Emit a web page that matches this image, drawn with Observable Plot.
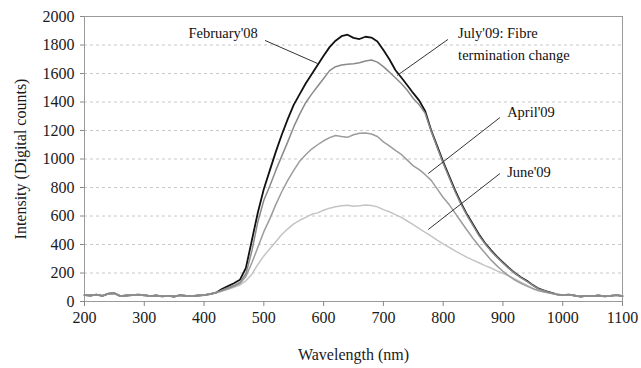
<!DOCTYPE html>
<html>
<head>
<meta charset="utf-8">
<script src="https://cdn.jsdelivr.net/npm/d3@7"></script>
<script src="https://cdn.jsdelivr.net/npm/@observablehq/plot@0.6"></script>
<style>
  html, body { margin: 0; padding: 0; background: #fff; }
  #chart { width: 641px; height: 368px; }
</style>
</head>
<body>
<div id="chart"></div>
<script>
// Wavelength grid (nm)
const wavelengths = [200,210,220,230,240,250,260,270,280,290,300,310,320,330,340,350,360,370,380,390,400,410,420,
  430,440,450,460,470,480,490,500,510,520,530,540,550,560,570,580,590,600,610,620,630,640,650,660,670,680,690,700,
  710,720,730,740,750,760,770,780,790,800,810,820,830,840,850,860,870,880,890,900,910,920,930,940,950,960,970,980,
  990,1000,1010,1020,1030,1040,1050,1060,1070,1080,1090,1100];

// Shared noisy baseline (200–420 nm) and tail (990–1100 nm)
const baseline = [45,42,48,40,55,58,38,42,45,48,44,38,42,36,40,35,44,40,38,42,45,52,62];
const tail = [50,45,48,42,35,40,38,42,36,40,45,38];

// Series values 430–980 nm
const feb08 = [88,108,128,152,235,430,625,790,920,1050,
  1170,1280,1380,1455,1530,1595,1660,1725,1785,1830,
  1862,1872,1850,1842,1858,1852,1825,1765,1700,1625,
  1572,1518,1462,1410,1335,1200,1090,980,880,780,
  690,610,540,470,410,360,315,275,235,200,
  170,145,115,90,75,62];
const jul09 = [80,96,112,134,195,355,560,710,810,920,
  1020,1120,1225,1315,1395,1455,1510,1565,1620,1648,
  1660,1665,1668,1675,1688,1695,1680,1648,1610,1570,
  1530,1482,1425,1380,1320,1195,1080,970,870,770,
  682,602,532,462,405,355,310,270,232,198,
  168,142,113,88,74,60];
const apr09 = [76,90,106,126,175,272,380,490,580,680,
  770,850,920,985,1030,1070,1100,1128,1150,1165,
  1158,1152,1170,1180,1182,1175,1158,1120,1092,1060,
  1032,992,952,925,890,850,790,730,680,620,
  560,500,442,390,340,292,250,212,180,150,
  128,108,90,75,66,58];
const jun09 = [72,86,100,116,145,192,260,320,370,420,
  470,510,545,570,590,612,622,640,655,665,
  672,676,668,672,678,674,664,645,630,610,
  590,565,540,512,485,458,430,405,380,355,
  332,310,290,272,252,235,215,198,178,158,
  136,115,92,76,65,58];

const seriesNames = ["February'08", "July'09", "April'09", "June'09"];
const seriesValues = [feb08, jul09, apr09, jun09];
const seriesColors = ["#111111", "#8a8a8a", "#9c9c9c", "#c4c4c4"];
const seriesWidths = [1.8, 1.5, 1.5, 1.5];

const xTicks = [200,300,400,500,600,700,800,900,1000,1100];
const yTicks = [0,200,400,600,800,1000,1200,1400,1600,1800,2000];

// Annotation labels and leader lines (data coordinates)
const labelTexts = [
  {text: "February'08", x: 490, y: 1881, anchor: "end"},
  {text: "July'09: Fibre", x: 825, y: 1881, anchor: "start"},
  {text: "termination change", x: 825, y: 1726, anchor: "start"},
  {text: "April'09", x: 907, y: 1326, anchor: "start"},
  {text: "June'09", x: 907, y: 905, anchor: "start"}
];
const leaders = [
  {x1: 502, y1: 1832, x2: 590, y2: 1670},
  {x1: 808, y1: 1839, x2: 723, y2: 1586},
  {x1: 895, y1: 1291, x2: 775, y2: 898},
  {x1: 895, y1: 898, x2: 775, y2: 505}
];

const tables = seriesValues.map((vals, i) => {
  const full = [...baseline, ...vals, ...tail];
  return wavelengths.map((w, j) => ({wl: w, v: full[j], series: seriesNames[i]}));
});

// draw order: Feb first, then June, April, July on top of baseline
const order = [0, 3, 2, 1];

const chart = Plot.plot({
  width: 641,
  height: 368,
  marginLeft: 84,
  marginRight: 19,
  marginTop: 16,
  marginBottom: 67,
  style: {fontFamily: "'Liberation Serif', 'DejaVu Serif', serif", fontSize: "16px", background: "#fff", color: "#1a1a1a"},
  x: {domain: [200, 1100]},
  y: {domain: [0, 2000]},
  marks: [
    Plot.gridY(yTicks.filter(t => t > 0 && t < 2000), {stroke: "#c8c8c8", strokeOpacity: 1, strokeDasharray: "3,3"}),
    Plot.frame({stroke: "#9a9a9a"}),
    Plot.axisX({ticks: xTicks, tickFormat: d => String(d), tickSize: 5, tickPadding: 5, stroke: "#888", fontSize: 16,
      label: "Wavelength (nm)", labelAnchor: "center", labelArrow: "none", labelOffset: 58}),
    Plot.axisY({ticks: yTicks, tickFormat: d => String(d), tickSize: 4, tickPadding: 6, stroke: "#888", fontSize: 16,
      label: "Intensity (Digital counts)", labelAnchor: "center", labelArrow: "none", labelOffset: 70}),
    ...order.map(i => Plot.line(tables[i], {x: "wl", y: "v", stroke: seriesColors[i], strokeWidth: seriesWidths[i]})),
    Plot.link(leaders, {x1: "x1", y1: "y1", x2: "x2", y2: "y2", stroke: "#333", strokeWidth: 1}),
    Plot.text(labelTexts.filter(d => d.anchor === "end"), {x: "x", y: "y", text: "text", textAnchor: "end", fontSize: 14.5, fill: "#111"}),
    Plot.text(labelTexts.filter(d => d.anchor === "start"), {x: "x", y: "y", text: "text", textAnchor: "start", fontSize: 14.5, fill: "#111"})
  ]
});
document.getElementById("chart").appendChild(chart);
</script>
</body>
</html>
